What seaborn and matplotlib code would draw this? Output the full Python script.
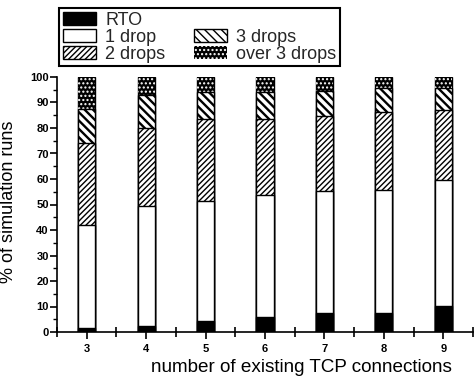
import matplotlib
matplotlib.use("Agg")
import matplotlib.pyplot as plt
import matplotlib.patches as mpatches
from matplotlib.ticker import MultipleLocator, FixedLocator
import seaborn as sns
import pandas as pd
import numpy as np

connections = ["3", "4", "5", "6", "7", "8", "9"]
rto = [1.5, 2.4, 4.3, 5.8, 7.6, 7.6, 10.3]
one_drop = [40.5, 47.1, 47.1, 47.9, 47.8, 48.1, 49.3]
two_drops = [32.0, 30.6, 32.0, 29.7, 29.4, 30.4, 27.4]
three_drops = [13.3, 12.8, 10.6, 10.8, 9.7, 9.5, 8.6]
over_three = [12.7, 7.1, 6.0, 5.8, 5.5, 4.4, 4.4]

series_names = ["RTO", "1 drop", "2 drops", "3 drops", "over 3 drops"]
series_vals = [rto, one_drop, two_drops, three_drops, over_three]

sns.set_theme(style="ticks")
plt.rcParams["font.family"] = ["Liberation Sans", "DejaVu Sans"]

fig = plt.figure(figsize=(4.77, 3.80), dpi=100)
ax = fig.add_axes([57 / 477, 1 - 332 / 380, (473 - 57) / 477, (332 - 77) / 380])

styles = {
    "RTO": dict(face="black", edge="black", hatch=None, hlw=1.0, lw=1.0),
    "1 drop": dict(face="white", edge="black", hatch=None, hlw=1.0, lw=1.0),
    "2 drops": dict(face="white", edge="black", hatch="//////", hlw=1.0, lw=1.0),
    "3 drops": dict(face="white", edge="black", hatch="\\\\\\\\", hlw=1.7, lw=1.0),
    "over 3 drops": dict(face="black", edge="white", hatch="....", hlw=1.0, lw=0.0),
}

cum = np.cumsum(np.array(series_vals), axis=0)
# draw from top layer to bottom so each lower layer overlays the one above
for i in range(len(series_names) - 1, -1, -1):
    name = series_names[i]
    st = styles[name]
    plt.rcParams["hatch.linewidth"] = st["hlw"]
    df = pd.DataFrame({"n": connections, "v": cum[i]})
    kw = dict(x="n", y="v", data=df, ax=ax, width=0.29, color=st["face"],
              edgecolor=st["edge"], linewidth=st["lw"], saturation=1,
              zorder=2 + (5 - i))
    if st["hatch"]:
        kw["hatch"] = st["hatch"]
    sns.barplot(**kw)

# thin black outline around the top (dark dotted) segment
plt.rcParams["hatch.linewidth"] = 1.0
df_out = pd.DataFrame({"n": connections, "v": cum[-1]})
sns.barplot(x="n", y="v", data=df_out, ax=ax, width=0.29, fill=False,
            edgecolor="black", linewidth=1.0, zorder=1)

ax.set_xlim(-0.5, 6.5)
ax.set_ylim(0, 100)
sns.despine(ax=ax)
for sp in ("left", "bottom"):
    ax.spines[sp].set_linewidth(1.2)
    ax.spines[sp].set_color("black")

ax.yaxis.set_major_locator(MultipleLocator(10))
ax.yaxis.set_minor_locator(MultipleLocator(5))
ax.xaxis.set_minor_locator(FixedLocator(np.arange(-0.5, 7.0, 1.0)))
ax.tick_params(axis="y", which="major", direction="out", length=5, width=1.2, color="black",
               labelsize=8, pad=1)
ax.tick_params(axis="y", which="minor", direction="out", length=3, width=1.0, color="black")
ax.tick_params(axis="x", which="major", direction="out", length=5, width=1.2, color="black",
               labelsize=8, pad=4)
ax.tick_params(axis="x", which="minor", direction="inout", length=7, width=1.2, color="black")
for lab in ax.get_xticklabels() + ax.get_yticklabels():
    lab.set_fontweight("bold")
    lab.set_color("black")

ax.set_xlabel("number of existing TCP connections", fontsize=13.6, color="black")
ax.set_ylabel("% of simulation runs", fontsize=13, color="black")
ax.xaxis.set_label_coords(0.587, -0.105)
ax.yaxis.set_label_coords(-0.096, 0.51)

handles = []
for name in series_names:
    st = styles[name]
    plt.rcParams["hatch.linewidth"] = st["hlw"]
    handles.append(mpatches.Patch(facecolor=st["face"], edgecolor=st["edge"],
                                  hatch=st["hatch"], linewidth=st["lw"], label=name))
plt.rcParams["hatch.linewidth"] = 1.0
blank = mpatches.Patch(facecolor="none", edgecolor="none", label="")
leg_handles = [handles[0], handles[1], handles[2], blank, handles[3], handles[4]]
leg_labels = ["RTO", "1 drop", "2 drops", "", "3 drops", "over 3 drops"]
leg = fig.legend(leg_handles, leg_labels, loc="upper left",
                 bbox_to_anchor=(59 / 477, 1 - 8 / 380), ncol=2, fontsize=13,
                 frameon=True, fancybox=False, edgecolor="black", framealpha=1,
                 handlelength=1.85, handleheight=0.75, handletextpad=0.5,
                 labelspacing=0.0, borderpad=0.2, columnspacing=1.6, borderaxespad=0)
leg.get_frame().set_linewidth(1.5)

fig.savefig("out.png", dpi=100)
